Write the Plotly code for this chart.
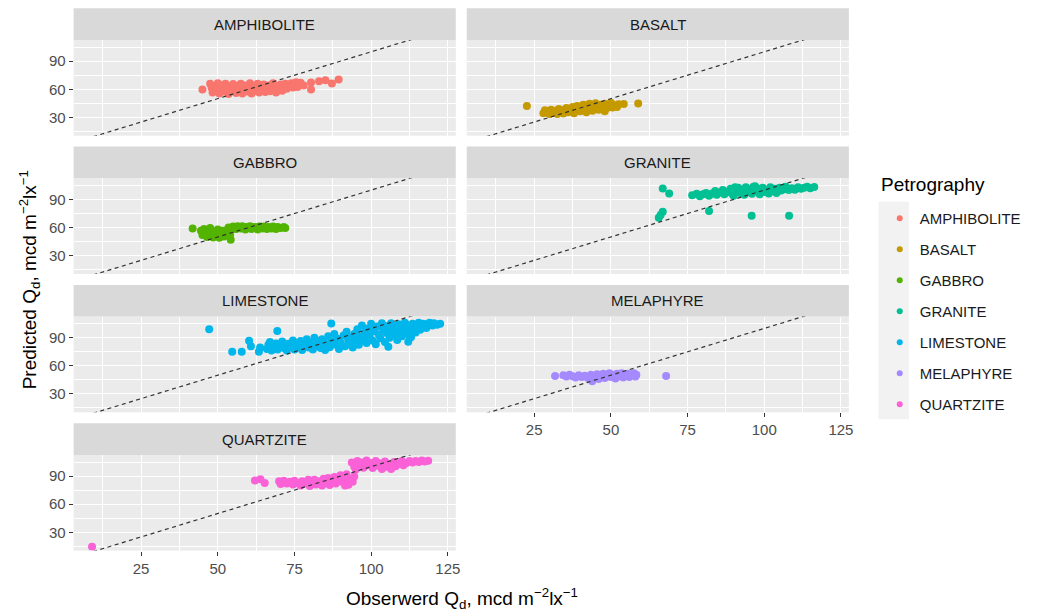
import plotly.graph_objects as go

# ---------------------------------------------------------------- data
petrography = ["AMPHIBOLITE", "BASALT", "GABBRO", "GRANITE",
               "LIMESTONE", "MELAPHYRE", "QUARTZITE"]
palette = ["#F8766D", "#C49A00", "#53B400", "#00C094",
           "#00B6EB", "#A58AFF", "#FB61D7"]

# (observed Qd, predicted Qd) pairs for each rock type
amphibolite = [
    (45.0, 59.7),
    (47.5, 66.0), (48.0, 61.5), (48.3, 56.5), (49.0, 63.5), (49.5, 58.5),
    (50.0, 66.5), (50.5, 55.5), (51.0, 61.0), (51.5, 64.0), (52.0, 57.5),
    (52.5, 66.0), (53.0, 60.0), (53.5, 55.0), (54.0, 63.0), (54.5, 58.0),
    (55.0, 65.5), (55.5, 61.0), (56.0, 56.0), (56.5, 63.5), (57.0, 59.0),
    (57.5, 66.0), (58.0, 55.5), (58.5, 61.5), (59.0, 64.0), (59.5, 57.5),
    (60.0, 60.5), (60.5, 66.5), (61.0, 55.5), (61.5, 63.0), (62.0, 58.5),
    (62.5, 61.0), (63.0, 66.0), (63.5, 56.5), (64.0, 62.5), (64.5, 59.5),
    (65.0, 65.0), (65.5, 57.0), (66.0, 61.5), (66.5, 64.0), (67.0, 58.0),
    (67.5, 62.0), (68.0, 66.5), (68.5, 60.0), (69.0, 56.5), (69.5, 63.5),
    (70.0, 61.0), (70.5, 65.0), (71.0, 58.5), (71.5, 62.5), (72.0, 66.0),
    (72.5, 60.5), (73.0, 63.5), (74.0, 66.5), (74.5, 62.0), (75.0, 64.5),
    (75.5, 67.5), (76.0, 62.5), (76.5, 65.5), (77.0, 67.0), (78.0, 64.0),
    (80.4, 67.2), (80.4, 59.7), (83.0, 68.6), (85.1, 69.6), (87.2, 66.1),
    (89.4, 70.4),
]
basalt = [
    (22.6, 42.1), (58.9, 44.7),
    (28.0, 34.5), (28.5, 37.5), (29.5, 35.5), (30.0, 33.5), (30.5, 38.0),
    (31.5, 35.0), (32.0, 37.0), (32.5, 33.5), (33.0, 39.0), (34.0, 36.0),
    (34.5, 34.0), (35.0, 38.5), (35.5, 40.0), (36.0, 35.5), (37.0, 37.5),
    (37.5, 41.0), (38.0, 34.5), (38.5, 39.0), (39.0, 42.0), (40.0, 36.5),
    (40.5, 40.0), (41.0, 43.5), (41.5, 38.0), (42.0, 35.5), (42.5, 41.5),
    (43.0, 44.5), (43.5, 39.0), (44.0, 37.0), (44.5, 42.5), (45.0, 45.0),
    (45.5, 40.5), (46.0, 38.0), (46.5, 43.5), (47.0, 41.0), (48.0, 36.4),
    (48.0, 44.5), (48.5, 39.5), (49.0, 42.5), (50.0, 45.5), (50.5, 40.5),
    (51.0, 43.0), (52.0, 41.0), (52.5, 44.0), (54.2, 44.2),
]
gabbro = [
    (41.8, 59.1),
    (44.5, 56.5), (45.0, 52.0), (45.5, 58.5), (46.0, 54.5), (46.5, 50.0),
    (47.0, 57.0), (47.5, 59.5), (48.0, 53.0), (48.5, 49.5), (49.0, 55.5),
    (49.5, 51.5), (50.0, 58.0), (50.5, 49.0), (51.0, 54.0), (51.5, 56.5),
    (52.0, 50.5), (52.5, 53.5), (53.0, 57.5), (54.2, 47.0), (54.0, 52.0),
    (53.5, 60.0), (54.5, 58.0), (55.0, 61.0), (56.0, 58.5), (56.5, 61.5),
    (57.5, 59.0), (58.0, 61.5), (59.0, 58.0), (59.5, 60.5), (60.5, 61.5),
    (61.0, 58.5), (62.0, 60.5), (63.0, 58.0), (63.5, 61.0), (64.5, 59.0),
    (65.0, 61.0), (66.0, 58.5), (66.5, 60.5), (67.5, 59.0), (68.0, 61.0),
    (69.0, 58.5), (69.5, 60.5), (70.5, 59.5), (71.5, 60.5), (72.0, 59.5),
]
granite = [
    (66.9, 101.7), (69.0, 96.4), (66.9, 76.8), (65.6, 70.4), (66.2, 73.5),
    (82.0, 77.6), (95.9, 72.6), (108.1, 72.6),
    (76.5, 94.5), (78.0, 96.0), (79.0, 93.5), (80.0, 95.5), (81.0, 97.0),
    (82.0, 94.0), (83.0, 96.5), (84.0, 99.0), (84.5, 95.0), (85.5, 97.5),
    (86.5, 100.0), (87.0, 95.5), (88.0, 98.0), (89.0, 101.5), (89.5, 96.5),
    (90.0, 94.0), (91.0, 99.5), (91.5, 102.5), (92.0, 97.0), (93.0, 100.5),
    (93.5, 95.0), (94.0, 103.0), (94.5, 98.0), (95.5, 101.0), (96.0, 96.0),
    (96.5, 103.5), (97.5, 99.0), (98.0, 101.5), (98.5, 95.5), (99.5, 102.5),
    (100.0, 98.0), (101.0, 100.5), (101.5, 96.5), (102.0, 103.0),
    (103.0, 99.0), (103.5, 101.5), (104.0, 97.0), (105.0, 102.5),
    (105.5, 99.5), (106.5, 101.0), (107.0, 103.5), (108.0, 100.0),
    (109.0, 102.0), (110.0, 100.5), (111.0, 103.0), (112.0, 101.5),
    (113.0, 102.5), (114.0, 103.5), (115.0, 102.0), (116.3, 103.4),
    (90.5, 103.0), (97.0, 104.0),
]
limestone = [
    (47.2, 99.0), (69.4, 97.1), (87.0, 105.3), (54.7, 75.1), (57.8, 75.1),
    (60.2, 86.8), (60.8, 81.0), (63.4, 75.1), (63.8, 79.5), (105.6, 80.4),
    (112.1, 85.7),
    (66.0, 78.0), (66.5, 82.5), (67.0, 85.5), (67.5, 76.5), (68.5, 80.0),
    (69.0, 84.0), (69.5, 77.5), (70.5, 82.0), (71.0, 86.0), (71.5, 79.0),
    (72.5, 76.5), (73.0, 83.5), (73.5, 80.5), (74.5, 87.0), (75.0, 77.5),
    (75.5, 84.0), (76.0, 80.5), (77.0, 86.5), (77.5, 77.0), (78.0, 82.5),
    (79.0, 88.5), (79.5, 79.5), (80.0, 84.5), (81.0, 77.5), (81.5, 90.0),
    (82.0, 82.0), (83.0, 86.5), (83.5, 79.0), (84.0, 88.5), (85.0, 83.5),
    (85.0, 77.0), (86.0, 91.5), (86.5, 80.0), (87.0, 86.0), (88.0, 94.0),
    (88.5, 82.5), (89.0, 89.0), (89.5, 78.0), (90.0, 85.0), (91.0, 92.5),
    (91.5, 81.0), (92.0, 96.5), (92.5, 87.5), (93.0, 83.5), (93.5, 90.5),
    (94.0, 79.5), (94.5, 94.0), (95.0, 86.5), (95.5, 99.0), (96.0, 82.5),
    (96.5, 91.0), (97.0, 103.0), (97.5, 88.0), (98.0, 95.5), (98.5, 84.5),
    (99.0, 100.0), (99.5, 92.0), (100.0, 105.0), (100.5, 87.0),
    (101.0, 97.0), (101.5, 83.0), (102.0, 102.0), (102.5, 93.5),
    (103.0, 89.5), (103.5, 105.5), (104.0, 98.5), (104.5, 85.5),
    (105.0, 95.0), (105.5, 102.5), (106.0, 90.0), (106.5, 105.5),
    (107.0, 97.5), (107.5, 93.0), (108.0, 101.0), (108.5, 87.5),
    (109.0, 104.5), (109.5, 96.0), (110.0, 91.5), (110.5, 100.0),
    (111.0, 106.0), (111.5, 94.0), (112.0, 103.0), (112.5, 98.0),
    (113.0, 90.5), (113.5, 105.0), (114.0, 100.5), (114.5, 95.5),
    (115.0, 103.5), (115.5, 106.0), (116.0, 98.5), (116.5, 102.0),
    (117.0, 105.0), (118.0, 100.5), (118.5, 104.0), (119.0, 106.0),
    (120.0, 103.0), (120.5, 105.5), (121.5, 104.0), (122.5, 105.0),
]
melaphyre = [
    (31.8, 49.2), (68.0, 49.2),
    (34.5, 50.0), (35.5, 48.5), (36.5, 50.5), (37.5, 49.0), (38.5, 47.5),
    (39.5, 50.0), (40.5, 48.0), (41.5, 49.5), (42.5, 47.0), (43.5, 50.5),
    (43.9, 43.5), (44.5, 48.0), (45.5, 51.0), (46.0, 46.0), (46.5, 49.0),
    (47.5, 51.5), (48.0, 47.0), (48.5, 50.0), (49.5, 52.0), (50.0, 48.0),
    (50.5, 50.5), (51.5, 46.5), (52.0, 51.5), (52.5, 49.0), (53.5, 52.0),
    (54.0, 47.5), (54.5, 50.0), (55.5, 51.5), (56.0, 48.0), (56.5, 50.5),
    (57.5, 52.0), (58.0, 48.5), (58.3, 50.5),
]
quartzite = [
    (9.0, 14.5),
    (62.1, 85.3), (63.9, 86.5), (65.3, 82.5),
    (70.0, 84.5), (70.5, 81.5), (71.5, 85.0), (72.5, 82.0), (73.5, 84.0),
    (74.5, 81.0), (75.0, 85.0), (76.0, 82.5), (77.0, 80.0), (77.5, 84.5),
    (78.5, 82.0), (79.5, 86.0), (80.0, 79.5), (80.5, 83.5), (81.5, 86.0),
    (82.0, 81.0), (83.0, 84.5), (84.0, 80.0), (84.5, 87.0), (85.5, 83.0),
    (86.0, 88.0), (86.5, 80.5), (87.5, 85.5), (88.0, 89.0), (88.5, 82.0),
    (89.5, 87.0), (90.0, 91.0), (90.5, 84.0), (91.0, 88.5), (91.5, 80.0),
    (92.0, 92.0), (92.6, 80.7), (93.0, 86.0), (94.0, 84.0), (94.5, 89.5),
    (93.7, 104.5), (94.5, 100.0), (95.0, 97.0), (95.5, 106.0), (96.0, 102.0),
    (97.0, 104.5), (97.5, 99.0), (98.5, 106.5), (99.0, 101.5), (100.0, 104.0),
    (100.5, 98.5), (101.5, 106.0), (102.0, 101.0), (103.0, 103.5),
    (103.5, 97.5), (104.5, 105.5), (105.0, 100.0), (106.0, 102.5),
    (106.5, 97.5), (107.5, 105.0), (108.0, 100.5), (109.0, 103.0),
    (110.0, 106.0), (110.5, 101.5), (111.5, 104.0), (112.5, 106.0),
    (113.5, 104.5), (114.5, 106.0), (115.5, 105.0), (116.5, 106.5),
    (117.5, 105.5), (118.6, 106.3),
]
series = [amphibolite, basalt, gabbro, granite, limestone, melaphyre, quartzite]

x_ticks = [25, 50, 75, 100, 125]
y_ticks = [30, 60, 90]
x_minor = [12.5, 37.5, 62.5, 87.5, 112.5]
y_minor = [15, 45, 75, 105]

# ---------------------------------------------------------------- layout geometry (px)
W, H = 1039, 612
COLS = [(74, 458), (469, 853)]
STRIP_TOP0, ROW_STEP, STRIP_H, PANEL_H = 8.3, 138.3, 31.7, 95.7
X_RANGE = [3.0, 127.6]
Y_RANGE = [10.4, 112.6]
FONT = "Liberation Sans, Arial, sans-serif"


def fx(p):
    return p / W


def fy(p):
    return 1 - p / H


fig = go.Figure()
layout = {}
shapes = []
annotations = []

for i, (rock, color, pts) in enumerate(zip(petrography, palette, series)):
    row, col = divmod(i, 2)
    sfx = "" if i == 0 else str(i + 1)
    x0, x1 = COLS[col]
    strip_top = STRIP_TOP0 + row * ROW_STEP
    panel_top = strip_top + STRIP_H
    panel_bot = panel_top + PANEL_H
    show_x = i + 2 >= len(petrography)
    show_y = col == 0

    axis_common = dict(
        showgrid=True, gridcolor="white", gridwidth=1.1,
        zeroline=False, showline=False,
        tickfont=dict(family=FONT, size=15, color="#4D4D4D"),
        tickcolor="#333333", ticklen=4, tickwidth=1.1,
    )
    layout["xaxis" + sfx] = dict(
        axis_common, domain=[fx(x0), fx(x1)], anchor="y" + sfx,
        range=X_RANGE, tickmode="array", tickvals=x_ticks,
        minor=dict(tickmode="array", tickvals=x_minor, showgrid=True,
                   gridcolor="white", gridwidth=0.55, ticks=""),
        ticks="outside" if show_x else "", showticklabels=show_x,
    )
    layout["yaxis" + sfx] = dict(
        axis_common, domain=[fy(panel_bot), fy(panel_top)], anchor="x" + sfx,
        range=Y_RANGE, tickmode="array", tickvals=y_ticks,
        minor=dict(tickmode="array", tickvals=y_minor, showgrid=True,
                   gridcolor="white", gridwidth=0.55, ticks=""),
        ticks="outside" if show_y else "", showticklabels=show_y,
    )

    # facet strip
    shapes.append(dict(type="rect", xref="paper", yref="paper",
                       x0=fx(x0), x1=fx(x1), y0=fy(panel_top), y1=fy(strip_top),
                       fillcolor="#D9D9D9", line=dict(width=0), layer="below"))
    annotations.append(dict(text=rock, xref="paper", yref="paper",
                            x=fx((x0 + x1) / 2), y=fy((strip_top + panel_top) / 2),
                            xanchor="center", yanchor="middle", showarrow=False,
                            font=dict(family=FONT, size=15, color="#1A1A1A")))

    obs = [p[0] for p in pts]
    pred = [p[1] for p in pts]
    fig.add_trace(go.Scatter(
        x=obs, y=pred, mode="markers", xaxis="x" + sfx, yaxis="y" + sfx,
        marker=dict(color=color, size=8, line=dict(width=0)),
        showlegend=False, name=rock, hoverinfo="x+y+name",
    ))
    # 1:1 reference line
    fig.add_trace(go.Scatter(
        x=[0, 130], y=[0, 130], mode="lines", xaxis="x" + sfx, yaxis="y" + sfx,
        line=dict(color="#333333", width=1.2, dash="4px,3.5px"),
        showlegend=False, hoverinfo="skip",
    ))

# legend entries (small keys)
for rock, color in zip(petrography, palette):
    fig.add_trace(go.Scatter(
        x=[None], y=[None], mode="markers", name=rock, legendgroup=rock,
        marker=dict(color=color, size=6), showlegend=True,
    ))

# legend key background
shapes.append(dict(type="rect", xref="paper", yref="paper",
                   x0=fx(882.7), x1=fx(913.3), y0=fy(419.3), y1=fy(201.7),
                   fillcolor="#F2F2F2", line=dict(width=0), layer="below"))

# legend title
annotations.append(dict(
    text="Petrography", xref="paper", yref="paper", x=fx(883), y=fy(184),
    xanchor="left", yanchor="middle", showarrow=False,
    font=dict(family=FONT, size=19, color="black")))

# axis titles
annotations.append(dict(
    text="Obserwerd Q<sub>d</sub>, mcd m<sup>−2</sup>lx<sup>−1</sup>",
    xref="paper", yref="paper", x=fx(464), y=fy(598),
    xanchor="center", yanchor="middle", showarrow=False,
    font=dict(family=FONT, size=19, color="black")))
annotations.append(dict(
    text="Predicted Q<sub>d</sub>, mcd m<sup>−2</sup>lx<sup>−1</sup>",
    xref="paper", yref="paper", x=fx(30), y=fy(279.5), textangle=-90,
    xanchor="center", yanchor="middle", showarrow=False,
    font=dict(family=FONT, size=19, color="black")))

fig.update_layout(
    **layout,
    width=W, height=H,
    margin=dict(l=0, r=0, t=0, b=0),
    paper_bgcolor="white", plot_bgcolor="#EBEBEB",
    shapes=shapes, annotations=annotations,
    showlegend=True,
    legend=dict(
        x=fx(884), y=fy(202), xanchor="left", yanchor="top",
        bgcolor="rgba(0,0,0,0)", borderwidth=0,
        font=dict(family=FONT, size=15, color="#1A1A1A"),
        tracegroupgap=8.5, itemwidth=30, traceorder="grouped",
    ),
    font=dict(family=FONT),
)

fig.write_html("out.html")
